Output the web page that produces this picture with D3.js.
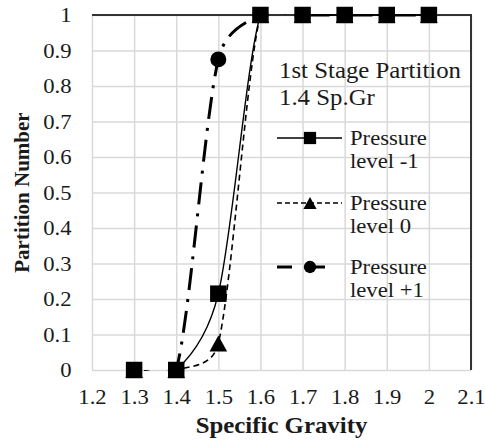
<!DOCTYPE html>
<html>
<head>
<meta charset="utf-8">
<script src="https://cdn.jsdelivr.net/npm/d3@7/dist/d3.min.js"></script>
<style>
  body { margin: 0; background: #fff; }
  text { font-family: "Liberation Serif", "Times New Roman", serif; fill: #1a1a1a; }
</style>
</head>
<body>
<svg id="chart" width="485" height="446"></svg>
<script>
// Partition curve data: specific gravity vs partition number per pressure level
const specificGravity = [1.3, 1.4, 1.5, 1.6, 1.7, 1.8, 1.9, 2.0];
const levelMinus1 = [0, 0, 0.215, 1, 1, 1, 1, 1];
const level0      = [0, 0, 0.075, 1, 1, 1, 1, 1];
const levelPlus1  = [0, 0, 0.875, 1, 1, 1, 1, 1];
const seriesNames = [["Pressure", "level -1"], ["Pressure", "level 0"], ["Pressure", "level +1"]];
const xTickValues = [1.2, 1.3, 1.4, 1.5, 1.6, 1.7, 1.8, 1.9, 2.0, 2.1];
const yTickValues = [0, 0.1, 0.2, 0.3, 0.4, 0.5, 0.6, 0.7, 0.8, 0.9, 1];
const legendTitle = ["1st Stage Partition", "1.4 Sp.Gr"];
const xTitle = "Specific Gravity";
const yTitle = "Partition Number";

const W = 485, H = 446;
const margin = { left: 92, top: 15, right: 14, bottom: 76 };
const plotW = W - margin.left - margin.right;
const plotH = H - margin.top - margin.bottom;

const svg = d3.select("#chart");
const x = d3.scaleLinear().domain([1.2, 2.1]).range([margin.left, margin.left + plotW]);
const y = d3.scaleLinear().domain([0, 1]).range([margin.top + plotH, margin.top]);
const fmt = d3.format("~g");
const stretch = "scale(1.08,1)";

// Grid + tick labels
const gx = svg.append("g")
  .attr("transform", `translate(0,${margin.top + plotH})`)
  .call(d3.axisBottom(x).tickValues(xTickValues).tickFormat(fmt).tickSize(-plotH));
const gy = svg.append("g")
  .attr("transform", `translate(${margin.left},0)`)
  .call(d3.axisLeft(y).tickValues(yTickValues).tickFormat(fmt).tickSize(-plotW));
[gx, gy].forEach(g => {
  g.attr("font-family", null);
  g.select(".domain").remove();
  g.selectAll(".tick line").attr("stroke", "#d9d9d9").attr("stroke-width", 1.5);
  g.selectAll(".tick text").attr("font-size", 21).attr("fill", "#1a1a1a");
});
gx.selectAll(".tick text").attr("y", 34).attr("dy", null).attr("transform", stretch);
gy.selectAll(".tick text").attr("x", -19).attr("dy", "0.33em").attr("transform", stretch);

// Frame on top and right
svg.append("path")
  .attr("d", `M${margin.left},${margin.top}H${margin.left + plotW}V${margin.top + plotH}`)
  .attr("fill", "none").attr("stroke", "#333").attr("stroke-width", 2);

// Axis titles
svg.append("text")
  .attr("transform", `translate(${margin.left + plotW / 2},433) ${stretch}`)
  .attr("text-anchor", "middle").attr("font-size", 23).attr("font-weight", "bold")
  .text(xTitle);
svg.append("text")
  .attr("transform", `translate(29,${margin.top + plotH / 2}) rotate(-90)`)
  .attr("text-anchor", "middle").attr("font-size", 21).attr("font-weight", "bold")
  .text(yTitle);

// Clip series to the plot area
svg.append("defs").append("clipPath").attr("id", "plotClip")
  .append("rect").attr("x", margin.left).attr("y", margin.top - 1)
  .attr("width", plotW).attr("height", plotH + 2);

// Smoothed line: cubic Bezier through every point, tangent = 1/6 of the chord
// between neighbours, capped at half of the current segment length.
function curveSmooth(context) {
  let pts = [];
  const dist = (a, b) => Math.hypot(b[0] - a[0], b[1] - a[1]);
  return {
    areaStart() {}, areaEnd() {},
    lineStart() { pts = []; },
    point(px, py) { pts.push([+px, +py]); },
    lineEnd() {
      const n = pts.length;
      if (!n) return;
      context.moveTo(pts[0][0], pts[0][1]);
      for (let i = 0; i < n - 1; i++) {
        const p0 = pts[Math.max(i - 1, 0)], p1 = pts[i], p2 = pts[i + 1], p3 = pts[Math.min(i + 2, n - 1)];
        const d12 = dist(p1, p2), d02 = dist(p0, p2), d13 = dist(p1, p3);
        let f1 = 1 / 6, f2 = 1 / 6;
        if (d02 > 0 && d02 / 6 >= d12 / 2) f1 = d12 / 2 / d02;
        if (d13 > 0 && d13 / 6 >= d12 / 2) f2 = d12 / 2 / d13;
        context.bezierCurveTo(
          p1[0] + (p2[0] - p0[0]) * f1, p1[1] + (p2[1] - p0[1]) * f1,
          p2[0] - (p3[0] - p1[0]) * f2, p2[1] - (p3[1] - p1[1]) * f2,
          p2[0], p2[1]);
      }
    }
  };
}

// Triangle marker centred on its bounding box
const boxTriangle = {
  draw(ctx, size) {
    const s = Math.sqrt(size);
    ctx.moveTo(0, -s / 2);
    ctx.lineTo(s * 0.55, s / 2);
    ctx.lineTo(-s * 0.55, s / 2);
    ctx.closePath();
  }
};

const series = [
  { values: levelPlus1,  dash: "22,9,3,9", width: 3,   symbol: d3.symbolCircle, size: 200, legendSize: 120, legendDash: "15,18" },
  { values: level0,      dash: "6,4",      width: 1.6, symbol: boxTriangle,     size: 256, legendSize: 144, legendDash: "5,3" },
  { values: levelMinus1, dash: null,       width: 1.4, symbol: d3.symbolSquare, size: 272, legendSize: 150, legendDash: null }
];

const line = d3.line()
  .x((d, i) => x(specificGravity[i]))
  .y(d => y(d))
  .curve(curveSmooth);

const plot = svg.append("g").attr("clip-path", "url(#plotClip)");
series.forEach(s => {
  plot.append("path")
    .attr("d", line(s.values))
    .attr("fill", "none").attr("stroke", "#000")
    .attr("stroke-width", s.width)
    .attr("stroke-dasharray", s.dash);
});
series.forEach(s => {
  svg.append("g").selectAll("path")
    .data(s.values)
    .join("path")
    .attr("transform", (d, i) => `translate(${x(specificGravity[i])},${y(d)})`)
    .attr("d", d3.symbol(s.symbol, s.size))
    .attr("fill", "#000");
});

// Legend
const legend = svg.append("g");
legend.selectAll("text.title")
  .data(legendTitle).join("text")
  .attr("class", "title")
  .attr("transform", (d, i) => `translate(279,${78 + i * 27}) ${stretch}`)
  .attr("font-size", 23)
  .text(d => d);

const legendOrder = [2, 1, 0];
const legendY = [138, 203, 267];
legendOrder.forEach((si, k) => {
  const s = series[si];
  const ly = legendY[k];
  legend.append("line")
    .attr("x1", 277).attr("x2", 342).attr("y1", ly).attr("y2", ly)
    .attr("stroke", "#000").attr("stroke-width", s.width)
    .attr("stroke-dasharray", s.legendDash);
  legend.append("path")
    .attr("transform", `translate(310,${ly})`)
    .attr("d", d3.symbol(s.symbol, s.legendSize))
    .attr("fill", "#000");
  legend.selectAll(null)
    .data(seriesNames[k]).join("text")
    .attr("transform", (d, j) => `translate(350,${ly + 7 + j * 23}) ${stretch}`)
    .attr("font-size", 21)
    .text(d => d);
});
</script>
</body>
</html>
